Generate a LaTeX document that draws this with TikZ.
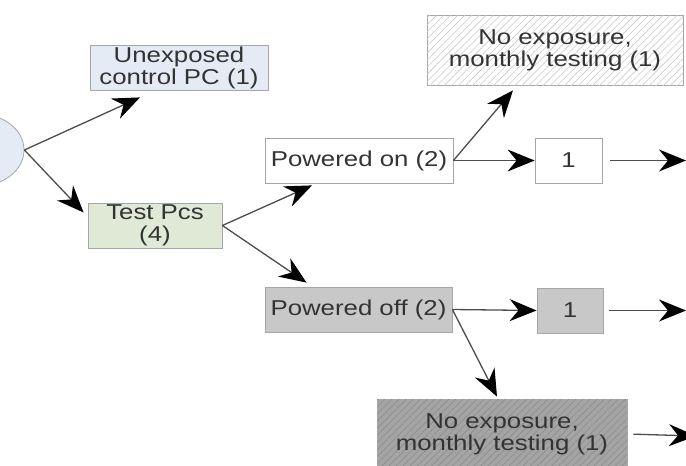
\documentclass[tikz,border=0pt]{standalone}
\usepackage{fontspec}
\setmainfont{Liberation Sans}[FakeStretch=1.2]
\usetikzlibrary{arrows.meta,shapes.geometric,patterns.meta}

\definecolor{boxline}{HTML}{A6A6A6}
\definecolor{ctrlblue}{HTML}{E4EBF5}
\definecolor{testgreen}{HTML}{E0E9D5}
\definecolor{offgray}{HTML}{C8C8C8}
\definecolor{hatchgray}{HTML}{A4A4A4}
\definecolor{txtgray}{HTML}{333333}

\tikzset{
  box/.style={draw=boxline, line width=0.8pt, minimum height=45pt, inner sep=0pt,
    align=center, text=txtgray, font=\fontsize{21.5}{22}\selectfont},
  hatchbox/.style={box, minimum height=70pt,
    postaction={pattern={Lines[angle=45,distance=5pt,line width=0.6pt]}, pattern color=#1}},
  link/.style={draw=black!70, line width=1.3pt,
    -{Stealth[length=27pt,width=22pt,inset=9pt,black]}}
}

\begin{document}
\begin{tikzpicture}[x=1pt,y=-1pt]
  \clip (0,0) rectangle (686,466);

  \node[ellipse, draw=boxline, line width=0.8pt, fill=ctrlblue,
        minimum width=90pt, minimum height=72pt] (root) at (-21,150) {};

  \node[box, fill=ctrlblue, minimum width=178pt] (unexp) at (179,67.5) {Unexposed\\control PC (1)};
  \node[box, fill=testgreen, minimum width=134pt] (test) at (155,225.5) {Test Pcs\\(4)};
  \node[box, fill=white, minimum width=188pt] (pon) at (359,160.5) {Powered on (2)};
  \node[box, fill=offgray, minimum width=187pt] (poff) at (358.5,309.5) {Powered off (2)};
  \node[box, fill=white, minimum width=67pt] (onone) at (568.5,160.5) {1};
  \node[box, fill=offgray, minimum width=66pt] (offone) at (570,310.5) {1};
  \node[hatchbox=black!20, fill=white, minimum width=256pt] (onnoexp) at (555,50) {No exposure,\\monthly testing (1)};
  \node[hatchbox=black!45, fill=hatchgray, minimum width=250pt] (offnoexp) at (502,434) {No exposure,\\monthly testing (1)};

  \coordinate (onout) at (686,160.5);
  \coordinate (offout) at (686,310.5);
  \coordinate (noexpout) at (696,436);

  \draw[link] (root.east) -- ([xshift=-39pt,yshift=-7pt]unexp.south);
  \draw[link] (root.east) -- ([xshift=-4pt,yshift=13pt]test.west);
  \draw[link] (test.east) -- ([xshift=-47pt,yshift=-2pt]pon.south);
  \draw[link] (test.east) -- ([xshift=-52pt,yshift=4pt]poff.north);
  \draw[link] (pon.east) -- ([xshift=-42pt,yshift=-5pt]onnoexp.south);
  \draw[link] (pon.east) -- (onone.west);
  \draw[link, shorten <=8pt] (onone.east) -- (onout);
  \draw[link] (poff.east) -- (offone.west);
  \draw[link, shorten <=6pt] (offone.east) -- (offout);
  \draw[link] (poff.east) -- ([xshift=-5pt,yshift=2pt]offnoexp.north);
  \draw[link, shorten <=6pt] (offnoexp.east) -- (noexpout);
\end{tikzpicture}
\end{document}
